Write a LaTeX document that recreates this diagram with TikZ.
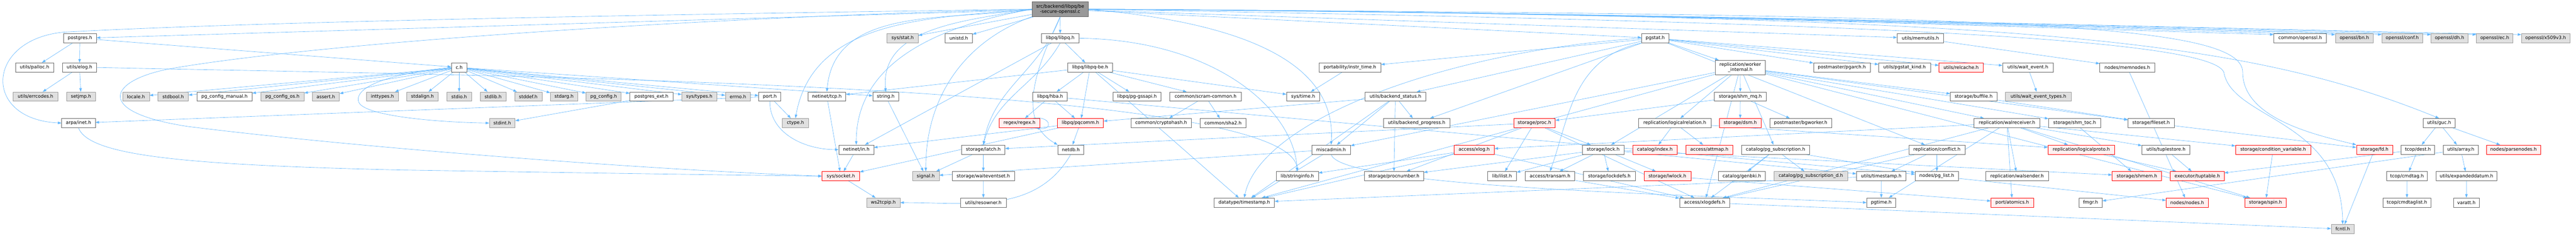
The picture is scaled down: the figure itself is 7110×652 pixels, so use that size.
\documentclass[tikz,border=0pt]{standalone}
\usepackage{fontspec}
\setmainfont{DejaVu Sans}
\usetikzlibrary{arrows.meta}
\pgfdeclarelayer{bg}
\pgfdeclarelayer{edgelayer}
\pgfsetlayers{bg,edgelayer,main}
\definecolor{edgeblue}{HTML}{63B8FF}
\definecolor{wline}{HTML}{666666}
\definecolor{gline}{HTML}{999999}
\definecolor{gfill}{HTML}{E0E0E0}
\definecolor{rfill}{HTML}{FFF0F0}
\definecolor{rootfill}{HTML}{999999}
\begin{document}
\begin{tikzpicture}[x=1pt,y=1pt,
  nbox/.style={rectangle,inner sep=0pt,minimum height=25.4pt,line width=1pt,text=black,font=\fontsize{12.7}{14.6}\selectfont},
  wn/.style={nbox,draw=wline,fill=white},
  gn/.style={nbox,draw=gline,fill=gfill},
  rn/.style={nbox,draw=red,fill=rfill},
  rootn/.style={nbox,draw=wline,fill=rootfill,align=center,minimum height=40.3pt},
  edg/.style={draw=edgeblue,line width=0.9pt,-{Triangle[length=10pt,width=7pt]}}]
\begin{pgfonlayer}{bg}
\fill[white] (0,0) rectangle (7110,-652);
\end{pgfonlayer}
\useasboundingbox (0,0) rectangle (7110,-652);
% root
\node[rootn,minimum width=155.3pt] (root) at (2926.15,-25.55) {src/backend/libpq/be\\-secure-openssl.c};
% row 1
\node[wn,minimum width=90.7pt] (pg) at (220.65,-105.8) {postgres.h};
\node[gn,minimum width=86.1pt] (sysstat) at (2491.25,-105.8) {sys/stat.h};
\node[wn,minimum width=75pt] (unistd) at (2646.1,-105.8) {unistd.h};
\node[wn,minimum width=103.4pt] (libpq) at (2926.2,-105.8) {libpq/libpq.h};
\node[wn,minimum width=75.4pt] (pgstat) at (4568.7,-105.8) {pgstat.h};
\node[wn,minimum width=128.5pt] (memutils) at (5300.55,-105.8) {utils/memutils.h};
\node[wn,minimum width=145.4pt] (copenssl) at (6348.6,-105.8) {common/openssl.h};
\node[gn,minimum width=104.5pt] (bn) at (6498.05,-105.8) {openssl/bn.h};
\node[gn,minimum width=112.8pt] (conf) at (6630.4,-105.8) {openssl/conf.h};
\node[gn,minimum width=101.8pt] (dh) at (6760.8,-105.8) {openssl/dh.h};
\node[gn,minimum width=100.8pt] (ec) at (6885.6,-105.8) {openssl/ec.h};
\node[gn,minimum width=133.4pt] (x509) at (7026.1,-105.8) {openssl/x509v3.h};
% row 2
\node[wn,minimum width=105.6pt] (palloc) at (95.3,-186.5) {utils/palloc.h};
\node[wn,minimum width=94.5pt] (elog) at (219.45,-186.5) {utils/elog.h};
\node[wn,minimum width=42.9pt] (ch) at (1267.35,-186.5) {c.h};
\node[wn,minimum width=123.2pt] (libpqbe) at (3008.8,-186.5) {libpq/libpq-be.h};
\node[wn,minimum width=170.6pt] (instr) at (3725.9,-186.5) {portability/instr\_time.h};
\node[wn,minimum width=138.9pt,minimum height=40pt,align=center] (worker) at (4803.25,-186.7) {replication/worker\\\_internal.h};
\node[wn,minimum width=156.1pt] (pgarch) at (5083.55,-186.5) {postmaster/pgarch.h};
\node[wn,minimum width=142.7pt] (pgkind) at (5256.75,-186.5) {utils/pgstat\_kind.h};
\node[rn,minimum width=121.7pt] (relcache) at (5412.65,-186.5) {utils/relcache.h};
\node[wn,minimum width=139pt] (waitev) at (5596.9,-186.5) {utils/wait\_event.h};
\node[wn,minimum width=151.5pt] (memnodes) at (5871.45,-186.5) {nodes/memnodes.h};
% row 3
\node[gn,minimum width=123.2pt] (errcodes) at (98,-267.2) {utils/errcodes.h};
\node[gn,minimum width=79.6pt] (setjmp) at (223.5,-267.2) {setjmp.h};
\node[gn,minimum width=73.9pt] (locale) at (375.25,-267.2) {locale.h};
\node[gn,minimum width=83.4pt] (stdbool) at (478,-267.2) {stdbool.h};
\node[wn,minimum width=152.3pt] (pgcm) at (619.55,-267.2) {pg\_config\_manual.h};
\node[gn,minimum width=119.4pt] (pgcos) at (779.5,-267.2) {pg\_config\_os.h};
\node[gn,minimum width=75pt] (assert) at (899.3,-267.2) {assert.h};
\node[gn,minimum width=87.2pt] (inttypes) at (1055.4,-267.2) {inttypes.h};
\node[gn,minimum width=87.2pt] (stdalign) at (1166,-267.2) {stdalign.h};
\node[gn,minimum width=67.3pt] (stdio) at (1267.35,-267.2) {stdio.h};
\node[gn,minimum width=71.6pt] (stdlib) at (1360.9,-267.2) {stdlib.h};
\node[gn,minimum width=75.4pt] (stddef) at (1458.1,-267.2) {stddef.h};
\node[gn,minimum width=75.4pt] (stdarg) at (1556.9,-267.2) {stdarg.h};
\node[gn,minimum width=96.4pt] (pgc) at (1666.1,-267.2) {pg\_config.h};
\node[wn,minimum width=118.6pt] (pgext) at (1798.1,-267.2) {postgres\_ext.h};
\node[gn,minimum width=96.4pt] (systypes) at (1930.1,-267.2) {sys/types.h};
\node[gn,minimum width=68.5pt] (errno) at (2036.65,-267.2) {errno.h};
\node[wn,minimum width=60.8pt] (port) at (2124.7,-267.2) {port.h};
\node[wn,minimum width=104.8pt] (tcp) at (2282.2,-267.2) {netinet/tcp.h};
\node[wn,minimum width=71.2pt] (string) at (2444.8,-267.2) {string.h};
\node[wn,minimum width=94.9pt] (hba) at (2898.25,-267.2) {libpq/hba.h};
\node[wn,minimum width=133.1pt] (gss) at (3138.15,-267.2) {libpq/pg-gssapi.h};
\node[wn,minimum width=197.8pt] (scram) at (3327.4,-267.2) {common/scram-common.h};
\node[wn,minimum width=91pt] (systime) at (3596.6,-267.2) {sys/time.h};
\node[wn,minimum width=166.9pt] (bstatus) at (3851.45,-267.2) {utils/backend\_status.h};
\node[wn,minimum width=143.1pt] (shmmq) at (4803.45,-267.2) {storage/shm\_mq.h};
\node[wn,minimum width=128.2pt] (buffile) at (5447.3,-267.2) {storage/buffile.h};
\node[gn,minimum width=181.4pt] (waittypes) at (5626.2,-267.2) {utils/wait\_event\_types.h};
% row 4
\node[wn,minimum width=92.6pt] (inet) at (216.6,-340.3) {arpa/inet.h};
\node[gn,minimum width=70.8pt] (stdint) at (1386.2,-340.3) {stdint.h};
\node[gn,minimum width=71.6pt] (ctype) at (2195.5,-340.3) {ctype.h};
\node[rn,minimum width=112.9pt] (regex) at (2813.85,-340.3) {regex/regex.h};
\node[rn,minimum width=127pt] (pqcomm) at (2982,-340.3) {libpq/pqcomm.h};
\node[wn,minimum width=166.9pt] (crypto) at (3204.75,-340.3) {common/cryptohash.h};
\node[wn,minimum width=126.6pt] (sha2) at (3375.6,-340.3) {common/sha2.h};
\node[wn,minimum width=182.9pt] (bprog) at (3909.95,-340.3) {utils/backend\_progress.h};
\node[rn,minimum width=114.8pt] (proc) at (4235.2,-340.3) {storage/proc.h};
\node[wn,minimum width=200.2pt] (logrel) at (4622.3,-340.3) {replication/logicalrelation.h};
\node[rn,minimum width=114.8pt] (dsm) at (4803.1,-340.3) {storage/dsm.h};
\node[wn,minimum width=170.7pt] (bgworker) at (4969.95,-340.3) {postmaster/bgworker.h};
\node[wn,minimum width=183pt] (walrecv) at (5539.3,-340.3) {replication/walreceiver.h};
\node[wn,minimum width=143.1pt] (shmtoc) at (5726.05,-340.3) {storage/shm\_toc.h};
\node[wn,minimum width=127.4pt] (fileset) at (5937.1,-340.3) {storage/fileset.h};
\node[wn,minimum width=87.9pt] (guc) at (6732.05,-340.3) {utils/guc.h};
% row 5
\node[wn,minimum width=96.4pt] (nin) at (2363.3,-413.7) {netinet/in.h};
\node[wn,minimum width=119pt] (latch) at (2714,-413.7) {storage/latch.h};
\node[wn,minimum width=71.6pt] (netdb) at (2955.5,-413.7) {netdb.h};
\node[wn,minimum width=107.1pt] (misc) at (3673.85,-413.7) {miscadmin.h};
\node[rn,minimum width=111pt] (xlog) at (4068.8,-413.7) {access/xlog.h};
\node[wn,minimum width=115.2pt] (lock) at (4424.8,-413.7) {storage/lock.h};
\node[rn,minimum width=122.8pt] (index) at (4567.6,-413.7) {catalog/index.h};
\node[rn,minimum width=128.9pt] (attmap) at (4717.95,-413.7) {access/attmap.h};
\node[wn,minimum width=188.3pt] (pgsub) at (4900.65,-413.7) {catalog/pg\_subscription.h};
\node[wn,minimum width=154.5pt] (conflict) at (5346.05,-413.7) {replication/conflict.h};
\node[rn,minimum width=184pt] (logproto) at (5744.6,-413.7) {replication/logicalproto.h};
\node[wn,minimum width=132.4pt] (tuplestore) at (5978.2,-413.7) {utils/tuplestore.h};
\node[rn,minimum width=207.4pt] (condvar) at (6274,-413.7) {storage/condition\_variable.h};
\node[rn,minimum width=99.9pt] (fd) at (6553.95,-413.7) {storage/fd.h};
\node[wn,minimum width=92.7pt] (dest) at (6673.65,-413.7) {tcop/dest.h};
\node[wn,minimum width=97pt] (array) at (6791.9,-413.7) {utils/array.h};
\node[rn,minimum width=149.3pt] (parsenodes) at (6937.45,-413.7) {nodes/parsenodes.h};
% row 6
\node[rn,minimum width=103.3pt] (socket) at (2320.85,-487.1) {sys/socket.h};
\node[gn,minimum width=73.8pt] (signal) at (2555.2,-487.1) {signal.h};
\node[wn,minimum width=172.6pt] (wes) at (2714,-487.1) {storage/waiteventset.h};
\node[wn,minimum width=115.9pt] (stringinfo) at (3580.75,-487.1) {lib/stringinfo.h};
\node[wn,minimum width=163.8pt] (procnum) at (3847.2,-487.1) {storage/procnumber.h};
\node[wn,minimum width=79.2pt] (ilist) at (4145.9,-487.1) {lib/ilist.h};
\node[wn,minimum width=136.2pt] (transam) at (4278.1,-487.1) {access/transam.h};
\node[wn,minimum width=142.7pt] (lockdefs) at (4442.05,-487.1) {storage/lockdefs.h};
\node[rn,minimum width=129.4pt] (lwlock) at (4602.2,-487.1) {storage/lwlock.h};
\node[wn,minimum width=130.4pt] (genbki) at (4807.5,-487.1) {catalog/genbki.h};
\node[gn,minimum width=202.9pt] (pgsubd) at (4997.85,-487.1) {catalog/pg\_subscription\_d.h};
\node[wn,minimum width=137pt] (utimestamp) at (5192.6,-487.1) {utils/timestamp.h};
\node[wn,minimum width=119.7pt] (pglist) at (5345.85,-487.1) {nodes/pg\_list.h};
\node[wn,minimum width=173.7pt] (walsend) at (5567.25,-487.1) {replication/walsender.h};
\node[rn,minimum width=136.6pt] (shmem) at (5898.1,-487.1) {storage/shmem.h};
\node[rn,minimum width=148.4pt] (tuptable) at (6064.7,-487.1) {executor/tuptable.h};
\node[wn,minimum width=112.1pt] (cmdtag) at (6643.45,-487.1) {tcop/cmdtag.h};
\node[wn,minimum width=168.2pt] (expdatum) at (6807.7,-487.1) {utils/expandeddatum.h};
% row 7
\node[gn,minimum width=92.6pt] (ws2) at (2437.9,-560.3) {ws2tcpip.h};
\node[wn,minimum width=125.6pt] (resowner) at (2714.2,-560.3) {utils/resowner.h};
\node[wn,minimum width=166.5pt] (dtimestamp) at (3434.15,-560.3) {datatype/timestamp.h};
\node[wn,minimum width=138.9pt] (xlogdefs) at (4704.95,-560.3) {access/xlogdefs.h};
\node[wn,minimum width=79.9pt] (pgtime) at (5192.45,-560.3) {pgtime.h};
\node[rn,minimum width=117.1pt] (atomics) at (5553.85,-560.3) {port/atomics.h};
\node[wn,minimum width=64.3pt] (fmgr) at (5770.05,-560.3) {fmgr.h};
\node[rn,minimum width=116.3pt] (nodes) at (6036.75,-560.3) {nodes/nodes.h};
\node[rn,minimum width=114.8pt] (spin) at (6253,-560.3) {storage/spin.h};
\node[wn,minimum width=131.8pt] (cmdtaglist) at (6643.4,-560.3) {tcop/cmdtaglist.h};
\node[wn,minimum width=71.9pt] (varatt) at (6807.35,-560.3) {varatt.h};
% row 8
\node[gn,minimum width=63.1pt] (fcntl) at (6465.95,-633.5) {fcntl.h};

\begin{pgfonlayer}{edgelayer}
% root edges
\foreach \tgt in {pg,sysstat,unistd,libpq,pgstat,memutils} {\draw[edg] (root) -- (\tgt);}
\draw[edg] (root.east) .. controls (4500,-32) and (5700,-80) .. ([yshift=-3pt]copenssl.north west);
\draw[edg] (root.east) .. controls (4500,-32) and (5850,-82) .. ([yshift=-3pt]bn.north west);
\draw[edg] (root.east) .. controls (4500,-32) and (6000,-82) .. ([yshift=-3pt]conf.north west);
\draw[edg] (root.east) .. controls (4500,-32) and (6100,-84) .. ([yshift=-3pt]dh.north west);
\draw[edg] (root.east) .. controls (4500,-32) and (6250,-84) .. ([yshift=-3pt]ec.north west);
\draw[edg] (root.east) .. controls (4500,-32) and (6350,-85) .. ([yshift=-3pt]x509.north west);
\draw[edg] (root.west) .. controls (1800,-40) and (700,-60) .. (175,-89) .. controls (-40,-110) and (-50,-330) .. (inet.west);
\draw[edg] (root.west) .. controls (2000,-45) and (900,-115) .. (470,-190) .. controls (300,-222) and (255,-310) .. (520,-350) .. controls (1000,-410) and (1800,-470) .. (socket.west);
\draw[edg] (root.west) to[out=190,in=95] (string.north);
\draw[edg] (root.south west) to[out=200,in=90] (signal.north);
\draw[edg] (root.south) to[out=-110,in=80] (latch.north);
\draw[edg] (root.south) to[out=-115,in=150] (netdb.north west);
\draw[edg] (root.west) to[out=190,in=90] (nin.north);
\draw[edg] (root.west) to[out=188,in=85] (tcp.north);
\draw[edg] (root.west) to[out=185,in=80] (ctype.north);
\draw[edg] (root.east) .. controls (3400,-60) and (3690,-160) .. (misc.north);
\draw[edg] (root.east) .. controls (5500,-45) and (6150,-90) .. (guc.north);
\draw[edg] (root.east) .. controls (5500,-40) and (6190,-60) .. (6190,-200) .. controls (6190,-330) and (6400,-375) .. (fd.north west);
\draw[edg] (root.east) .. controls (5000,-60) and (6100,-100) .. (6138,-200) .. controls (6160,-330) and (6462,-330) .. (fcntl.north);
% postgres.h and c.h
\foreach \tgt in {palloc,elog,ch} {\draw[edg] (pg) -- (\tgt);}
\foreach \tgt in {errcodes,setjmp} {\draw[edg] (elog) -- (\tgt);}
\draw[edg] (elog.east) .. controls (1300,-210) and (3560,-225) .. (stringinfo.north);
\foreach \tgt in {locale,stdbool,pgcm,pgcos,assert,inttypes,stdalign,stdio,stdlib,stddef,stdarg,pgc,pgext,systypes,errno,port,string} {\draw[edg] (ch) -- (\tgt);}
\draw[edg] (ch.west) .. controls (1100,-200) and (975,-235) .. (990,-282) .. controls (1003,-320) and (1200,-338) .. (stdint.west);
\draw[edg] (pgext) -- (stdint);
\foreach \tgt in {ctype,inet} {\draw[edg] (port) -- (\tgt);}
\draw[edg] (port.south) to[out=-90,in=180] (nin.west);
\draw[edg] (inet.south) .. controls (245,-430) and (500,-456) .. (1100,-470) .. controls (1600,-478) and (2000,-484) .. (socket.west);
\draw[edg] (tcp) -- (socket);
\draw[edg] (nin) -- (socket);
\draw[edg] (socket) -- (ws2);
\draw[edg] (netdb.south) to[out=-120,in=0] (ws2.east);
\draw[edg] (string) -- (signal);
% libpq
\foreach \tgt in {libpqbe,nin} {\draw[edg] (libpq) -- (\tgt);}
\draw[edg] (libpq.south) to[out=-120,in=75] (latch.north);
\draw[edg] (libpq.east) .. controls (3350,-110) and (3570,-300) .. (stringinfo.north);
\foreach \tgt in {hba,pqcomm,tcp,gss,scram,systime,dtimestamp} {\draw[edg] (libpqbe) -- (\tgt);}
\foreach \tgt in {regex,pqcomm,pglist} {\draw[edg] (hba) -- (\tgt);}
\draw[edg] ([xshift=-20pt]regex.north east) .. controls +(50,8) and +(50,-8) .. ([xshift=-12pt]regex.south east);
\foreach \tgt in {netdb,socket,nin} {\draw[edg] (pqcomm) -- (\tgt);}
\foreach \tgt in {signal,wes} {\draw[edg] (latch) -- (\tgt);}
\draw[edg] (wes) -- (resowner);
\foreach \tgt in {crypto,sha2} {\draw[edg] (scram) -- (\tgt);}
\draw[edg] (instr) -- (systime);
\foreach \tgt in {signal,dtimestamp} {\draw[edg] (misc) -- (\tgt);}
\draw[edg] (misc.south) .. controls (3700,-520) and (4700,-540) .. (pgtime.west);
% pgstat
\foreach \tgt in {instr,bstatus,bprog,worker,pgarch,pgkind,relcache,waitev,conflict} {\draw[edg] (pgstat) -- (\tgt);}
\draw[edg] (pgstat.west) .. controls (4000,-140) and (3480,-330) .. (dtimestamp.north);
\draw[edg] (pgstat.south west) .. controls (4340,-160) and (4330,-330) .. (transam.north);
\foreach \tgt in {shmmq,logrel,lock,misc,pgsub,buffile,fileset,walrecv,shmtoc,spin,xlogdefs,dtimestamp} {\draw[edg] (worker) -- (\tgt);}
\foreach \tgt in {dsm,bgworker,proc} {\draw[edg] (shmmq) -- (\tgt);}
\foreach \tgt in {index,attmap,logproto} {\draw[edg] (logrel) -- (\tgt);}
\foreach \tgt in {lock,ilist,procnum,latch,xlogdefs} {\draw[edg] (proc) -- (\tgt);}
\foreach \tgt in {transam,lockdefs,lwlock,ilist,procnum,utimestamp,shmem} {\draw[edg] (lock) -- (\tgt);}
\draw[edg] (transam) -- (xlogdefs);
\foreach \tgt in {xlogdefs,stringinfo,dtimestamp} {\draw[edg] (xlog) -- (\tgt);}
\foreach \tgt in {bprog,misc,procnum,pqcomm,dtimestamp} {\draw[edg] (bstatus) -- (\tgt);}
\foreach \tgt in {walsend,logproto,tuplestore,atomics,condvar,spin,xlogdefs,pgtime,xlog} {\draw[edg] (walrecv) -- (\tgt);}
\draw[edg] (shmtoc) -- (shmem);
\draw[edg] (buffile) -- (fileset);
\draw[edg] (fileset) -- (fd);
\draw[edg] (tuplestore) -- (tuptable);
\draw[edg] (condvar) -- (spin);
\draw[edg] (fd) -- (fcntl);
\foreach \tgt in {dest,array,parsenodes} {\draw[edg] (guc) -- (\tgt);}
\foreach \tgt in {cmdtag,tuptable} {\draw[edg] (dest) -- (\tgt);}
\draw[edg] (cmdtag) -- (cmdtaglist);
\foreach \tgt in {expdatum,fmgr} {\draw[edg] (array) -- (\tgt);}
\draw[edg] (expdatum) -- (varatt);
\draw[edg] (memutils) -- (memnodes);
\draw[edg] (memnodes) -- (nodes);
\draw[edg] (waitev) -- (waittypes);
\foreach \tgt in {genbki,pgsubd,pglist,xlogdefs} {\draw[edg] (pgsub) -- (\tgt);}
\foreach \tgt in {utimestamp,pglist,xlogdefs} {\draw[edg] (conflict) -- (\tgt);}
\foreach \tgt in {pgtime,dtimestamp} {\draw[edg] (utimestamp) -- (\tgt);}
\draw[edg] (pglist) -- (nodes);
\draw[edg] (logproto) -- (tuptable);
\draw[edg] (lwlock) -- (atomics);
\draw[edg] (xlogdefs) -- (fcntl);
\end{pgfonlayer}
\end{tikzpicture}
\end{document}
